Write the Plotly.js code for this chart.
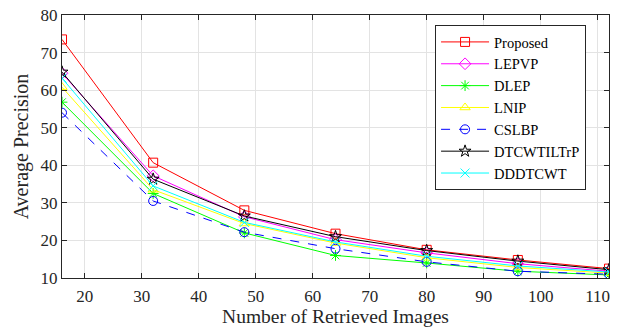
<!DOCTYPE html>
<html>
<head>
<meta charset="utf-8">
<script src="https://cdn.plot.ly/plotly-3.0.1.min.js"></script>
<style>html,body{margin:0;padding:0;background:#fff;}#chart{width:617px;height:329px;}</style>
</head>
<body>
<div id="chart"></div>
<script>
const retrieved = [16, 32, 48, 64, 80, 96, 112];
const proposed = [73.5, 40.7, 28.0, 21.8, 17.5, 14.8, 12.5];
const lepvp = [64.5, 37.2, 26.3, 20.2, 16.7, 13.8, 11.8];
const dlep = [56.8, 32.5, 22.0, 16.0, 14.0, 11.8, 10.8];
const lnip = [60.8, 33.5, 24.5, 19.3, 15.4, 12.8, 11.3];
const cslbp = [54.0, 30.5, 22.2, 17.8, 14.3, 11.8, 11.0];
const dtcwtiltrp = [64.8, 36.3, 26.5, 21.0, 17.3, 14.5, 12.2];
const dddtcwt = [63.2, 34.5, 24.8, 19.6, 15.8, 13.2, 11.6];
const xTicks = [20, 30, 40, 50, 60, 70, 80, 90, 100, 110];
const yTicks = [10, 20, 30, 40, 50, 60, 70, 80];

function tr(name, y, color, symbol, dash) {
  return {
    x: retrieved, y: y, name: name, type: 'scatter', mode: 'lines+markers',
    line: {color: color, width: 1, dash: dash || 'solid'},
    marker: {symbol: symbol, size: 9, color: color, line: {color: color, width: 1}}
  };
}
const data = [
  tr('Proposed', proposed, '#ff0000', 'square-open'),
  tr('LEPVP', lepvp, '#ff00ff', 'diamond-open'),
  tr('DLEP', dlep, '#00ff00', 'asterisk-open'),
  tr('LNIP', lnip, '#ffff00', 'triangle-up-open'),
  tr('CSLBP', cslbp, '#0000ff', 'circle-open', 'dash'),
  tr('DTCWTILTrP', dtcwtiltrp, '#000000', 'star-open'),
  tr('DDDTCWT', dddtcwt, '#00ffff', 'x-thin-open')
];
const axisCommon = {
  showline: true, linecolor: '#262626', linewidth: 1, mirror: 'ticks',
  ticks: 'inside', ticklen: 5, tickcolor: '#262626',
  showgrid: true, gridcolor: '#e3e3e3', gridwidth: 1, zeroline: false,
  tickfont: {family: 'Liberation Serif', size: 17, color: '#262626'}
};
const layout = {
  width: 617, height: 329,
  margin: {l: 62, r: 8, t: 15, b: 51},
  paper_bgcolor: '#ffffff', plot_bgcolor: '#ffffff',
  font: {family: 'Liberation Serif', color: '#262626'},
  showlegend: true,
  xaxis: Object.assign({}, axisCommon, {
    range: [16, 112], tickvals: xTicks, ticklabelstandoff: 3,
    title: {text: 'Number of Retrieved Images', font: {family: 'Liberation Serif', size: 19.5, color: '#262626'}, standoff: 2}
  }),
  yaxis: Object.assign({}, axisCommon, {
    range: [10, 80], tickvals: yTicks,
    title: {text: 'Average Precision', font: {family: 'Liberation Serif', size: 20, color: '#262626'}, standoff: 6}
  }),
  legend: {
    x: 0.682, y: 0.962, xanchor: 'left', yanchor: 'top',
    bgcolor: '#ffffff', bordercolor: '#262626', borderwidth: 1,
    font: {family: 'Liberation Serif', size: 14.5, color: '#000000'},
    itemwidth: 48, tracegroupgap: 0
  }
};
Plotly.newPlot('chart', data, layout, {displayModeBar: false, staticPlot: true});
</script>
</body>
</html>
